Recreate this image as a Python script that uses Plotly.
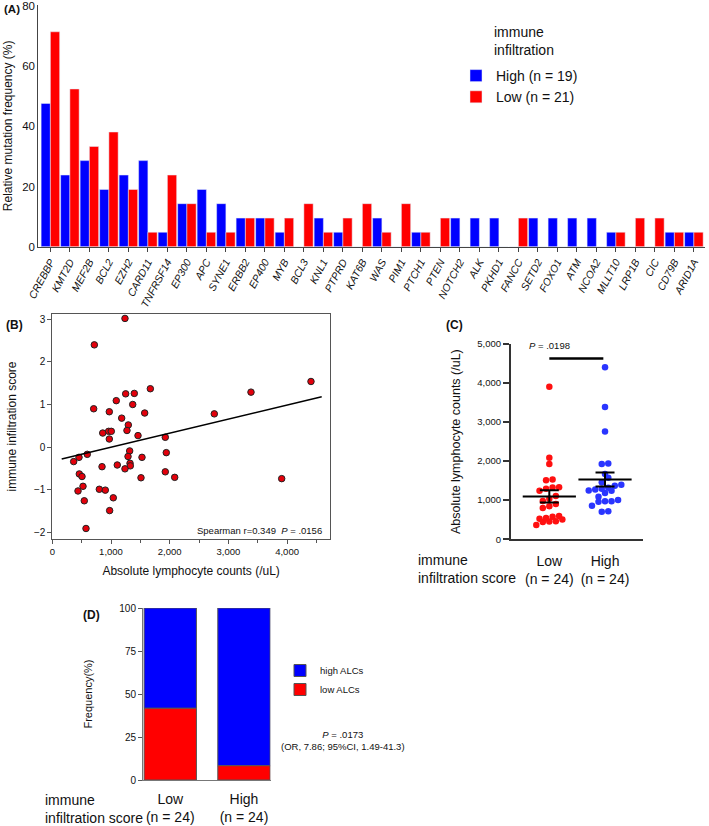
import numpy as np
import plotly.graph_objects as go

W, H = 709, 826


def px(x):
    return x / W


def py(y):
    return 1 - y / H


SANS = "Liberation Sans, Arial, sans-serif"

# ---------------- Panel A data ----------------
genes = ["CREBBP", "KMT2D", "MEF2B", "BCL2", "EZH2", "CARD11", "TNFRSF14", "EP300",
         "APC", "SYNE1", "ERBB2", "EP400", "MYB", "BCL3", "KNL1", "PTPRD", "KAT6B",
         "WAS", "PIM1", "PTCH1", "PTEN", "NOTCH2", "ALK", "PKHD1", "FANCC", "SETD2",
         "FOXO1", "ATM", "NCOA2", "MLLT10", "LRP1B", "CIC", "CD79B", "ARID1A"]
high_pct = [47.6, 23.8, 28.6, 19.0, 23.8, 28.6, 4.8, 14.3, 19.0, 14.3, 9.5, 9.5, 4.8, 0, 9.5, 4.8,
            0, 9.5, 0, 4.8, 0, 9.5, 9.5, 9.5, 0, 9.5, 9.5, 9.5, 9.5, 4.8, 0, 0, 4.8, 4.8]
low_pct = [71.4, 52.4, 33.3, 38.1, 19.0, 4.8, 23.8, 14.3, 4.8, 4.8, 9.5, 9.5, 9.5, 14.3, 4.8, 9.5,
           14.3, 4.8, 14.3, 4.8, 9.5, 0, 0, 0, 9.5, 0, 0, 0, 0, 4.8, 9.5, 9.5, 4.8, 4.8]

# ---------------- Panel B data ----------------
alc = [1238, 716, 4407, 1670, 3385, 1397, 1250, 1090, 1370, 705, 971, 1574, 2760, 1182,
       1295, 1272, 960, 1005, 859, 1460, 1925, 971, 1318, 1942,
       596, 1290, 455, 1528, 364, 1324, 1107, 1329, 847, 1238, 1925, 460, 506, 2085,
       1511, 3908, 523, 801, 903, 438, 1039, 545, 977, 574]
score = [3.02, 2.40, 1.54, 1.37, 1.29, 1.26, 1.25, 1.09, 1.00, 0.90, 0.83, 0.80, 0.78, 0.68,
         0.52, 0.39, 0.37, 0.37, 0.33, 0.27, 0.23, 0.19, -0.09, -0.13,
         -0.17, -0.22, -0.24, -0.24, -0.34, -0.38, -0.42, -0.44, -0.46, -0.51, -0.58, -0.63,
         -0.69, -0.71, -0.72, -0.74, -0.92, -0.99, -1.01, -1.03, -1.19, -1.26, -1.49, -1.91]
fit_x = [160, 4590]
fit_y = [-0.28, 1.18]

# ---------------- Panel C data (same patients, split by score) ----------------
alc_arr = np.array(alc, dtype=float)
score_arr = np.array(score, dtype=float)
rank = np.argsort(-score_arr, kind="stable")
high_alc = alc_arr[rank[:24]]
low_alc = alc_arr[rank[24:]]
c_groups = ["Low<br>(n = 24)", "High<br>(n = 24)"]
sig_text = "<i>P</i> = .0198"
sig_bar_y = 4630

# ---------------- Panel D data ----------------
d_groups = ["Low<br>(n = 24)", "High<br>(n = 24)"]
low_alcs_pct = [41.7, 8.3]
high_alcs_pct = [58.3, 91.7]


def swarm(vals, bin_size=150.0, step=0.117):
    vals = np.asarray(vals, dtype=float)
    order = np.argsort(vals, kind="stable")
    v = vals[order]
    offs = np.zeros(len(v))
    i = 0
    while i < len(v):
        j = i
        while j < len(v) and v[j] - v[i] < bin_size:
            j += 1
        n = j - i
        offs[order[i:j]] = (np.arange(n) - (n - 1) / 2.0) * step
        i = j
    return offs


fig = go.Figure()

# Panel A
fig.add_trace(go.Bar(x=genes, y=high_pct, name="High (n = 19)", marker=dict(color="#0000FF"),
                     width=0.475, offset=-0.475, xaxis="x", yaxis="y", legend="legend"))
fig.add_trace(go.Bar(x=genes, y=low_pct, name="Low (n = 21)", marker=dict(color="#FF0000"),
                     width=0.475, offset=0.0, xaxis="x", yaxis="y", legend="legend"))

# Panel B
fig.add_trace(go.Scatter(x=alc, y=score, mode="markers",
                         marker=dict(color="#E3000B", size=6.5, line=dict(color="#222", width=1)),
                         xaxis="x2", yaxis="y2", showlegend=False))
fig.add_trace(go.Scatter(x=fit_x, y=fit_y, mode="lines", line=dict(color="black", width=1.5),
                         xaxis="x2", yaxis="y2", showlegend=False))

# Panel C
fig.add_trace(go.Scatter(x=0 + swarm(low_alc), y=low_alc, mode="markers",
                         marker=dict(color="#FF1010", size=6.5),
                         xaxis="x3", yaxis="y3", showlegend=False))
fig.add_trace(go.Scatter(x=1 + swarm(high_alc), y=high_alc, mode="markers",
                         marker=dict(color="#2A35FF", size=6.5),
                         xaxis="x3", yaxis="y3", showlegend=False))
means = [low_alc.mean(), high_alc.mean()]
sems = [low_alc.std(ddof=1) / np.sqrt(len(low_alc)), high_alc.std(ddof=1) / np.sqrt(len(high_alc))]
fig.add_trace(go.Scatter(x=[0, 1], y=means, mode="markers",
                         marker=dict(symbol="line-ew", size=38, color="black",
                                     line=dict(color="black", width=2)),
                         error_y=dict(type="data", array=sems, width=9.5, thickness=2, color="black"),
                         xaxis="x3", yaxis="y3", showlegend=False))

# Panel D
fig.add_trace(go.Bar(x=[0, 1], y=high_alcs_pct, base=low_alcs_pct, name="high ALCs",
                     marker=dict(color="#0000FF", line=dict(color="#555", width=1)),
                     width=0.71, xaxis="x4", yaxis="y4", legend="legend2"))
fig.add_trace(go.Bar(x=[0, 1], y=low_alcs_pct, name="low ALCs",
                     marker=dict(color="#FF0000", line=dict(color="#555", width=1)),
                     width=0.71, xaxis="x4", yaxis="y4", legend="legend2"))

ax_common = dict(showgrid=False, zeroline=False, automargin=False, ticklabeloverflow="allow")

fig.update_layout(
    width=W, height=H,
    margin=dict(l=0, r=0, t=0, b=0, autoexpand=False),
    paper_bgcolor="white", plot_bgcolor="white",
    barmode="overlay",
    font=dict(family=SANS, color="#111"),
    xaxis=dict(domain=[px(38.3), px(705)], type="category", range=[-0.62, 33.57],
               showline=True, linecolor="#444", linewidth=1, ticks="outside", ticklen=4,
               tickcolor="#444", tickangle=-62,
               tickfont=dict(size=10.5, style="italic"), anchor="y", **ax_common),
    yaxis=dict(domain=[py(246.7), py(5)], range=[0, 80.3], dtick=20, showline=True,
               linecolor="#444", ticks="", tickfont=dict(size=11.5),
               title=dict(text="Relative mutation frequency (%)", font=dict(size=12), standoff=6),
               anchor="x", **ax_common),
    xaxis2=dict(domain=[px(52.3), px(330)], range=[0, 4731], dtick=1000, tickformat=",d",
                showline=True, mirror=True, linecolor="#555", ticks="outside", ticklen=4,
                tickcolor="#555", minor=dict(dtick=500, ticks="outside", ticklen=3, tickcolor="#555"),
                tickfont=dict(size=9.5),
                title=dict(text="Absolute lymphocyte counts (/uL)", font=dict(size=12), standoff=10),
                anchor="y2", **ax_common),
    yaxis2=dict(domain=[py(539), py(314)], range=[-2.157, 3.124], dtick=1, showline=True, mirror=True,
                linecolor="#555", ticks="outside", ticklen=4, tickcolor="#555",
                tickfont=dict(size=10),
                title=dict(text="immune infiltration score", font=dict(size=12), standoff=14),
                anchor="x2", **ax_common),
    xaxis3=dict(domain=[px(511), px(643)], range=[-0.688, 1.682], tickvals=[0, 1], ticktext=c_groups,
                showline=True, linecolor="#333", linewidth=2, ticks="", tickfont=dict(size=14),
                ticklabelstandoff=8, anchor="y3", **ax_common),
    yaxis3=dict(domain=[py(539.2), py(344)], range=[0, 5000], dtick=1000, tickformat=",d",
                showline=True, linecolor="#333", linewidth=2, ticks="outside", ticklen=6, tickwidth=2,
                tickcolor="#333", tickfont=dict(size=9.5),
                title=dict(text="Absolute lymphocyte counts (/uL)", font=dict(size=12.5), standoff=14),
                anchor="x3", **ax_common),
    xaxis4=dict(domain=[px(143), px(270.5)], range=[-0.37, 1.36], tickvals=[0, 1], ticktext=d_groups,
                showline=True, linecolor="#777", ticks="", tickfont=dict(size=14),
                ticklabelstandoff=6, anchor="y4", **ax_common),
    yaxis4=dict(domain=[py(780), py(608)], range=[0, 100], tickvals=[0, 25, 50, 75, 100],
                showline=True, linecolor="#777", ticks="outside", ticklen=4, tickcolor="#555",
                tickfont=dict(size=10),
                title=dict(text="Frequency(%)", font=dict(size=11), standoff=24),
                anchor="x4", **ax_common),
    legend=dict(x=px(456), y=py(60), xanchor="left", yanchor="top", font=dict(size=14),
                bgcolor="rgba(0,0,0,0)", itemwidth=30, traceorder="normal", tracegroupgap=0),
    legend2=dict(x=px(280), y=py(656), xanchor="left", yanchor="top", font=dict(size=9.5),
                 bgcolor="rgba(0,0,0,0)", itemwidth=30, traceorder="normal"),
)

fig.add_shape(type="line", xref="x3", yref="y3", x0=0, x1=0.97, y0=sig_bar_y, y1=sig_bar_y,
              line=dict(color="black", width=2.5))

ann = [
    dict(text="<b>(A)</b>", x=px(2), y=py(9), xanchor="left", font=dict(size=11.5)),
    dict(text="immune<br>infiltration", x=px(492), y=py(41), xanchor="left", align="left",
         font=dict(size=14)),
    dict(text="<b>(B)</b>", x=px(4), y=py(325), xanchor="left", font=dict(size=12)),
    dict(text="Spearman r=0.349  <i>P</i> = .0156", x=px(324), y=py(530), xanchor="right",
         font=dict(size=9.5)),
    dict(text="<b>(C)</b>", x=px(444), y=py(325), xanchor="left", font=dict(size=12)),
    dict(text=sig_text, x=px(572), y=py(346), font=dict(size=9.5)),
    dict(text="immune<br>infiltration score", x=px(416), y=py(569), xanchor="left", align="left",
         font=dict(size=14)),
    dict(text="<b>(D)</b>", x=px(81), y=py(615), xanchor="left", font=dict(size=12)),
    dict(text="<i>P</i> = .0173<br>(OR, 7.86; 95%CI, 1.49-41.3)", x=px(343), y=py(740),
         font=dict(size=9.5)),
    dict(text="immune<br>infiltration score", x=px(43), y=py(809), xanchor="left", align="left",
         font=dict(size=14)),
]
for a in ann:
    a.setdefault("xref", "paper")
    a.setdefault("yref", "paper")
    a.setdefault("showarrow", False)
    a.setdefault("yanchor", "middle")
    fig.add_annotation(**a)

fig.write_html("out.html", config={"displayModeBar": False},
               post_script="document.body.style.margin='0';")
